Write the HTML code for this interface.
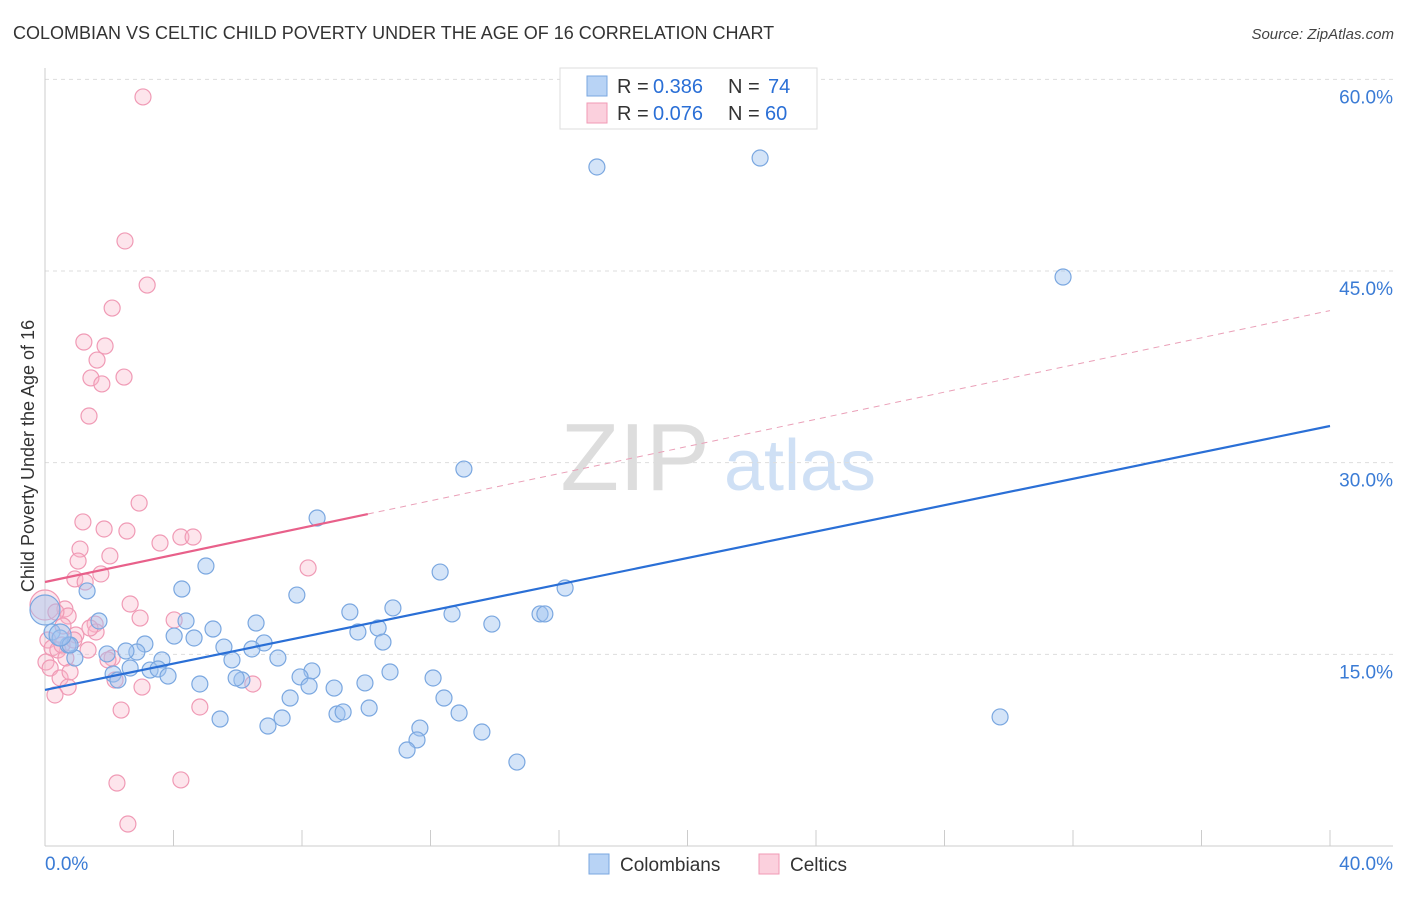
<!DOCTYPE html>
<html><head><meta charset="utf-8"><style>
body{margin:0;background:#fff;font-family:"Liberation Sans",sans-serif;}
svg text{font-family:"Liberation Sans",sans-serif;}
</style></head><body>
<svg id="chart" width="1406" height="892" xmlns="http://www.w3.org/2000/svg">
<text x="13" y="39" font-size="18" fill="#333">COLOMBIAN VS CELTIC CHILD POVERTY UNDER THE AGE OF 16 CORRELATION CHART</text>
<text x="1394" y="39" font-size="15" fill="#444" text-anchor="end" font-style="italic">Source: ZipAtlas.com</text>
<g>
<text x="635" y="490" font-size="96" fill="#ddd" text-anchor="middle" font-family="Liberation Serif,serif">ZIP</text>
<text x="800" y="490" font-size="72" fill="#cfe0f5" text-anchor="middle">atlas</text>
</g>
<g id="grid"></g>
<g id="axes"></g>
<g id="marks"></g>
<text transform="translate(34,456) rotate(-90)" font-size="18" fill="#333" text-anchor="middle">Child Poverty Under the Age of 16</text>
<g>
<rect x="560" y="68" width="257" height="61" fill="#fff" stroke="#ddd"/>
<rect x="587" y="76" width="20" height="20" fill="#b8d3f5" stroke="#7aa7e0"/>
<text x="617" y="93" font-size="20" fill="#333">R =</text>
<text x="653" y="93" font-size="20" fill="#2a6fd6">0.386</text>
<text x="728" y="93" font-size="20" fill="#333">N =</text>
<text x="768" y="93" font-size="20" fill="#2a6fd6">74</text>
<rect x="587" y="103" width="20" height="20" fill="#fbd0dd" stroke="#f09ab5"/>
<text x="617" y="120" font-size="20" fill="#333">R =</text>
<text x="653" y="120" font-size="20" fill="#2a6fd6">0.076</text>
<text x="728" y="120" font-size="20" fill="#333">N =</text>
<text x="765" y="120" font-size="20" fill="#2a6fd6">60</text>
</g>
<g>
<rect x="589" y="854" width="20" height="20" fill="#b8d3f5" stroke="#7aa7e0"/>
<text x="620" y="871" font-size="19" fill="#333">Colombians</text>
<rect x="759" y="854" width="20" height="20" fill="#fbd0dd" stroke="#f09ab5"/>
<text x="790" y="871" font-size="19" fill="#333">Celtics</text>
</g>
</svg>
<script>
const yTicks=[15,30,45,60];
const yTickLabels=["15.0%","30.0%","45.0%","60.0%"];
const xEndLabels=["0.0%","40.0%"];
const blueX=[17.18,22.26,31.69,13.04,8.47,29.73,5.01,4.26,1.31,7.84,12.30,16.19,10.83,9.49,12.67,15.41,15.56,13.91,10.37,9.74,10.52,6.57,5.23,4.39,4.02,4.64,3.11,1.68,6.82,5.57,6.44,5.82,7.25,3.64,3.27,3.52,3.83,2.65,2.12,2.27,1.93,2.86,2.52,0.93,0.72,0.22,0.47,0.78,8.31,7.94,8.22,9.96,9.00,10.74,12.08,12.42,7.63,4.82,6.13,5.95,9.09,9.28,10.09,12.89,11.67,11.58,11.27,13.60,14.69,6.94,7.38,5.45,0,0.47];
const blueY=[53.14,53.84,44.53,29.50,25.67,10.10,21.91,20.11,19.96,19.64,21.44,20.19,18.63,18.31,18.16,18.16,18.16,17.37,17.06,16.75,15.96,17.45,16.98,17.61,16.43,16.28,15.81,17.61,15.89,15.57,15.42,14.56,14.71,14.56,13.77,13.85,13.30,13.93,13.46,12.99,15.03,15.18,15.26,14.71,15.73,16.75,16.28,15.73,13.70,13.23,12.52,12.76,12.36,13.62,13.15,11.58,11.58,12.68,12.99,13.15,10.33,10.49,10.80,10.41,9.23,8.30,7.51,8.92,6.57,9.39,10.02,9.94,18.47,16.51];
const pinkX=[3.05,2.49,3.18,2.09,1.21,1.87,1.62,1.43,1.77,2.46,1.37,2.93,1.18,1.84,2.55,1.09,3.58,4.23,4.61,2.02,1.03,1.74,0.93,8.19,1.25,2.65,0.62,0.72,1.56,2.96,4.02,0.56,0.96,1.59,0.09,0.22,0.40,0.65,1.34,2.09,0.03,0.16,0.47,0.78,2.18,3.02,0.72,0.31,4.82,6.47,2.37,2.24,4.23,2.58,0,0.34,0.53,1.96,0.90,1.40];
const pinkY=[58.62,47.35,43.90,42.10,39.44,39.13,38.03,36.63,36.16,36.70,33.65,26.84,25.36,24.81,24.65,23.24,23.71,24.18,24.18,22.70,22.30,21.29,20.90,21.76,20.66,18.94,18.55,18.00,17.37,17.84,17.69,17.22,16.51,16.75,16.12,15.50,15.34,14.71,15.34,14.71,14.40,13.93,13.15,13.62,12.99,12.44,12.44,11.82,10.88,12.68,10.64,4.93,5.17,1.72,18.86,18.31,15.73,14.56,16.12,17.06];
const blueLine=[12.21,32.87];
const pinkLine=[20.66,25.98,41.9];
const pinkSolidEnd=10.05;
const NS="http://www.w3.org/2000/svg";
const sx=v=>45+v*32.125;
const sy=v=>846-v*12.778;
function mk(tag,attrs,parent){const e=document.createElementNS(NS,tag);for(const k in attrs)e.setAttribute(k,attrs[k]);document.getElementById(parent).appendChild(e);return e;}
yTicks.forEach((t,i)=>{
 const g=mk('line',{x1:45,x2:1393,y1:sy(t),y2:sy(t),stroke:'#ddd','stroke-dasharray':'4,4'},'grid');
 
 
 const l=mk('text',{x:1393,y:sy(t)+24,'font-size':19,fill:'#3a7bd5','text-anchor':'end'},'axes');
 
 
 l.textContent=yTickLabels[i];
});
let a=mk('line',{x1:45,x2:45,y1:68,y2:846,stroke:'#ccc'},'axes');


a=mk('line',{x1:45,x2:1393,y1:846,y2:846,stroke:'#ccc'},'axes');


for(let i=0;i<=10;i++){const t=mk('line',{x1:sx(i*4),x2:sx(i*4),y1:830,y2:846,stroke:'#ccc'},'axes');
 
 }
let xl=mk('text',{x:45,y:870,'font-size':19,fill:'#3a7bd5'},'axes');


xl.textContent=xEndLabels[0];
xl=mk('text',{x:1393,y:870,'font-size':19,fill:'#3a7bd5','text-anchor':'end'},'axes');


xl.textContent=xEndLabels[1];
pinkX.forEach((x,i)=>{const r=(i==54)?15:8;
 const c=mk('circle',{cx:sx(x),cy:sy(pinkY[i]),r:r,fill:'rgba(248,180,200,0.35)',stroke:'#f09ab5','stroke-width':1.2},'marks');
 
 });
blueX.forEach((x,i)=>{const r=(i==72)?15:(i==73?11:8);
 const c=mk('circle',{cx:sx(x),cy:sy(blueY[i]),r:r,fill:'rgba(160,196,240,0.45)',stroke:'#7aa7e0','stroke-width':1.2},'marks');
 
 });
let ln=mk('line',{x1:sx(0),y1:sy(blueLine[0]),x2:sx(40),y2:sy(blueLine[1]),stroke:'#2a6fd6','stroke-width':2.2},'marks');


ln=mk('line',{x1:sx(0),y1:sy(pinkLine[0]),x2:sx(pinkSolidEnd),y2:sy(pinkLine[1]),stroke:'#e8608a','stroke-width':2.2},'marks');


ln=mk('line',{x1:sx(pinkSolidEnd),y1:sy(pinkLine[1]),x2:sx(40),y2:sy(pinkLine[2]),stroke:'#eaa0b8','stroke-width':1,'stroke-dasharray':'6,5'},'marks');


</script>
</body></html>
